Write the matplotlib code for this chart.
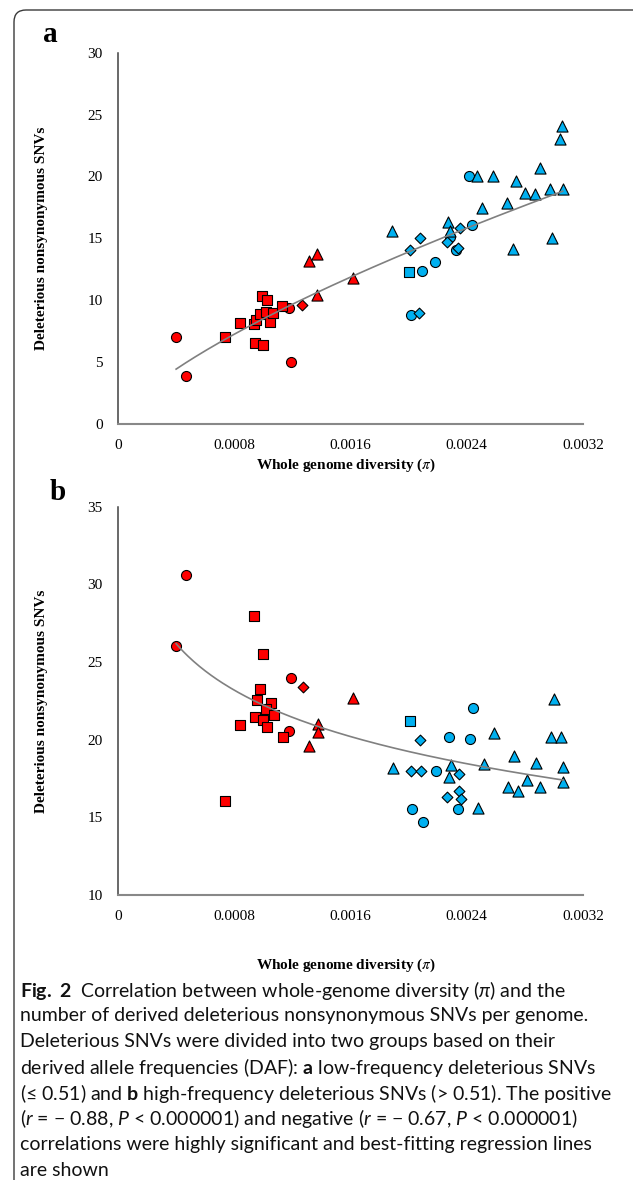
import numpy as np
import matplotlib
matplotlib.use('Agg')
import matplotlib.pyplot as plt
from matplotlib.patches import FancyBboxPatch

# caption uses a sans font, math bits (r, P, pi, bold a/b) through a custom mathtext set
plt.rcParams['mathtext.fontset'] = 'custom'
plt.rcParams['mathtext.rm'] = 'Lato'
plt.rcParams['mathtext.it'] = 'Lato:italic'
plt.rcParams['mathtext.bf'] = 'Lato:bold'

# ---- panel a : low-frequency deleterious SNVs ----
a_red_circle_x = [0.000400, 0.000469, 0.001175, 0.001189]
a_red_circle_y = [7.06, 3.88, 9.38, 5.04]
a_red_square_x = [0.000738, 0.000837, 0.000933, 0.000952, 0.000975, 0.000989, 0.001025,
                  0.001018, 0.001048, 0.001067, 0.001129, 0.000940, 0.000995]
a_red_square_y = [7.0, 8.2, 8.1, 8.4, 8.87, 10.35, 10.0, 9.05, 8.27, 8.95, 9.54, 6.57, 6.39]
a_red_diamond_x = [0.001267]
a_red_diamond_y = [9.59]
a_red_triangle_x = [0.001313, 0.001372, 0.001372, 0.001614]
a_red_triangle_y = [13.2, 13.74, 10.43, 11.83]

a_blue_square_x = [0.002002]
a_blue_square_y = [12.26]
a_blue_circle_x = [0.002094, 0.002182, 0.002014, 0.002283, 0.002437, 0.002329, 0.002416]
a_blue_circle_y = [12.4, 13.07, 8.79, 15.09, 16.09, 14.07, 20.05]
a_blue_diamond_x = [0.002078, 0.002009, 0.002071, 0.002262, 0.002354, 0.002340]
a_blue_diamond_y = [15.0, 14.07, 9.0, 14.74, 15.8, 14.2]
a_blue_triangle_x = [0.001887, 0.002271, 0.002285, 0.002508, 0.002473, 0.002581, 0.002680,
                     0.002742, 0.002804, 0.002873, 0.002901, 0.002970, 0.003060, 0.002717,
                     0.002990, 0.003041, 0.003055]
a_blue_triangle_y = [15.6, 16.35, 15.63, 17.44, 20.05, 20.05, 17.84, 19.6, 18.65, 18.57,
                     20.67, 19.0, 19.0, 14.15, 15.0, 23.0, 24.09]

# ---- panel b : high-frequency deleterious SNVs ----
b_red_circle_x = [0.000469, 0.000400, 0.001191, 0.001177]
b_red_circle_y = [30.6, 26.03, 24.0, 20.57]
b_red_square_x = [0.000738, 0.000933, 0.000995, 0.000979, 0.000956, 0.001050, 0.001018,
                  0.001071, 0.000943, 0.000995, 0.001025, 0.000837, 0.001136]
b_red_square_y = [16.05, 27.99, 25.52, 23.26, 22.56, 22.34, 21.95, 21.56, 21.43, 21.3,
                  20.82, 20.95, 20.15]
b_red_diamond_x = [0.001271]
b_red_diamond_y = [23.41]
b_red_triangle_x = [0.001315, 0.001375, 0.001375, 0.001614]
b_red_triangle_y = [19.6, 20.99, 20.51, 22.66]

b_blue_square_x = [0.002009]
b_blue_square_y = [21.22]
b_blue_circle_x = [0.002443, 0.002280, 0.002422, 0.002188, 0.002338, 0.002020, 0.002101]
b_blue_circle_y = [22.02, 20.19, 20.02, 18.0, 15.55, 15.51, 14.72]
b_blue_diamond_x = [0.002076, 0.002018, 0.002083, 0.002345, 0.002350, 0.002262, 0.002363]
b_blue_diamond_y = [19.98, 18.0, 18.0, 17.79, 16.7, 16.31, 16.2]
b_blue_triangle_x = [0.002998, 0.002588, 0.002979, 0.003048, 0.002722, 0.002880, 0.003064,
                     0.001892, 0.002294, 0.002278, 0.002519, 0.002480, 0.002685, 0.002752,
                     0.002814, 0.002906, 0.003064]
b_blue_triangle_y = [22.62, 20.45, 20.19, 20.19, 18.97, 18.48, 18.22, 18.16, 18.37, 17.57,
                     18.43, 15.58, 16.97, 16.72, 17.4, 16.97, 17.29]

x_ticks = [0, 0.0008, 0.0016, 0.0024, 0.0032]
x_tick_labels = ['0', '0.0008', '0.0016', '0.0024', '0.0032']
a_y_ticks = [0, 5, 10, 15, 20, 25, 30]
b_y_ticks = [10, 15, 20, 25, 30, 35]

x_label = r'Whole genome diversity ($\pi$)'
y_label = 'Deleterious nonsynonymous SNVs'

caption_lines = [
    r'$\mathbf{Fig.\ 2}$  Correlation between whole-genome diversity ($\mathit{\pi}$) and the',
    'number of derived deleterious nonsynonymous SNVs per genome.',
    'Deleterious SNVs were divided into two groups based on their',
    r'derived allele frequencies (DAF): $\mathbf{a}$ low-frequency deleterious SNVs',
    u'(\u2264 0.51) and $\\mathbf{b}$ high-frequency deleterious SNVs (> 0.51). The positive',
    u'($\\mathit{r}$ = \u2212 0.88, $\\mathit{P}$ < 0.000001) and negative ($\\mathit{r}$ = \u2212 0.67, $\\mathit{P}$ < 0.000001)',
    'correlations were highly significant and best-fitting regression lines',
    'are shown',
]

RED = '#FF0000'
BLUE = '#00B0F0'
serif = 'Liberation Serif'

fig = plt.figure(figsize=(6.33, 11.8), dpi=100)

# frame bracket (top + left edge, rounded corner)
frame = FancyBboxPatch((0.14, -1.0), 8.0, 11.70 + 1.0, boxstyle='round,pad=0,rounding_size=0.12',
                       transform=fig.dpi_scale_trans, fill=False, edgecolor='#3a3a3a', linewidth=1.0)
fig.patches.append(frame)

ax_a = fig.add_axes([0.1864, 0.6407, 0.7346, 0.3146])
ax_b = fig.add_axes([0.1864, 0.2415, 0.7346, 0.3291])


def draw_group(ax, x, y, marker, color, size):
    ax.scatter(x, y, marker=marker, s=size, facecolor=color, edgecolor='black',
               linewidth=0.8, zorder=3)


# panel a
draw_group(ax_a, a_red_circle_x, a_red_circle_y, 'o', RED, 52)
draw_group(ax_a, a_red_square_x, a_red_square_y, 's', RED, 52)
draw_group(ax_a, a_red_diamond_x, a_red_diamond_y, 'D', RED, 30)
draw_group(ax_a, a_red_triangle_x, a_red_triangle_y, '^', RED, 64)
draw_group(ax_a, a_blue_square_x, a_blue_square_y, 's', BLUE, 52)
draw_group(ax_a, a_blue_circle_x, a_blue_circle_y, 'o', BLUE, 52)
draw_group(ax_a, a_blue_diamond_x, a_blue_diamond_y, 'D', BLUE, 30)
draw_group(ax_a, a_blue_triangle_x, a_blue_triangle_y, '^', BLUE, 64)

# panel b
draw_group(ax_b, b_red_circle_x, b_red_circle_y, 'o', RED, 52)
draw_group(ax_b, b_red_square_x, b_red_square_y, 's', RED, 52)
draw_group(ax_b, b_red_diamond_x, b_red_diamond_y, 'D', RED, 30)
draw_group(ax_b, b_red_triangle_x, b_red_triangle_y, '^', RED, 64)
draw_group(ax_b, b_blue_square_x, b_blue_square_y, 's', BLUE, 52)
draw_group(ax_b, b_blue_circle_x, b_blue_circle_y, 'o', BLUE, 52)
draw_group(ax_b, b_blue_diamond_x, b_blue_diamond_y, 'D', BLUE, 30)
draw_group(ax_b, b_blue_triangle_x, b_blue_triangle_y, '^', BLUE, 64)

# best-fitting lines: power fit for a, log fit for b
ax_all = np.array(a_red_circle_x + a_red_square_x + a_red_diamond_x + a_red_triangle_x +
                  a_blue_square_x + a_blue_circle_x + a_blue_diamond_x + a_blue_triangle_x)
ay_all = np.array(a_red_circle_y + a_red_square_y + a_red_diamond_y + a_red_triangle_y +
                  a_blue_square_y + a_blue_circle_y + a_blue_diamond_y + a_blue_triangle_y)
pa = np.polyfit(np.log(ax_all), np.log(ay_all), 1)
xa = np.linspace(ax_all.min(), ax_all.max(), 200)
ax_a.plot(xa, np.exp(pa[1]) * xa ** pa[0], color='#808080', linewidth=1.2, zorder=4)

bx_all = np.array(b_red_circle_x + b_red_square_x + b_red_diamond_x + b_red_triangle_x +
                  b_blue_square_x + b_blue_circle_x + b_blue_diamond_x + b_blue_triangle_x)
by_all = np.array(b_red_circle_y + b_red_square_y + b_red_diamond_y + b_red_triangle_y +
                  b_blue_square_y + b_blue_circle_y + b_blue_diamond_y + b_blue_triangle_y)
pb = np.polyfit(np.log(bx_all), by_all, 1)
xb = np.linspace(bx_all.min(), bx_all.max(), 200)
ax_b.plot(xb, pb[0] * np.log(xb) + pb[1], color='#808080', linewidth=1.2, zorder=4)

# axes styling
for ax, yt, ylo, yhi in [(ax_a, a_y_ticks, 0, 30), (ax_b, b_y_ticks, 10, 35)]:
    ax.set_xlim(0, 0.0032)
    ax.set_ylim(ylo, yhi)
    ax.set_xticks(x_ticks)
    ax.set_xticklabels(x_tick_labels, fontfamily=serif, fontsize=11)
    ax.set_yticks(yt)
    ax.set_yticklabels([str(v) for v in yt], fontfamily=serif, fontsize=11)
    ax.tick_params(length=0, pad=11)
    ax.spines['top'].set_visible(False)
    ax.spines['right'].set_visible(False)
    ax.spines['left'].set_color('#404040')
    ax.spines['bottom'].set_color('#888888')
    ax.spines['left'].set_linewidth(1.1)
    ax.spines['bottom'].set_linewidth(1.5)
    ax.set_ylabel(y_label, fontfamily=serif, fontweight='bold', fontsize=11)
    ax.set_xlabel(x_label, fontfamily=serif, fontweight='bold', fontsize=11, math_fontfamily='stix')
    ax.patch.set_alpha(0)

ax_a.yaxis.set_label_coords(-0.15, 0.5)
ax_b.yaxis.set_label_coords(-0.15, 0.5)
ax_a.xaxis.set_label_coords(0.49, -0.088)
ax_b.xaxis.set_label_coords(0.49, -0.158)

# panel letters
fig.text(50 / 633, 1 - 35 / 1180, 'a', fontfamily=serif, fontweight='bold', fontsize=21,
         ha='center', va='center')
fig.text(58 / 633, 1 - 492 / 1180, 'b', fontfamily=serif, fontweight='bold', fontsize=21,
         ha='center', va='center')

# caption
for i, line in enumerate(caption_lines):
    fig.text(20 / 633, 1 - (990 + i * 25.8) / 1180, line, fontfamily='Lato', fontsize=14,
             ha='left', va='center', color='#111111')

fig.savefig('out.png', dpi=100)
